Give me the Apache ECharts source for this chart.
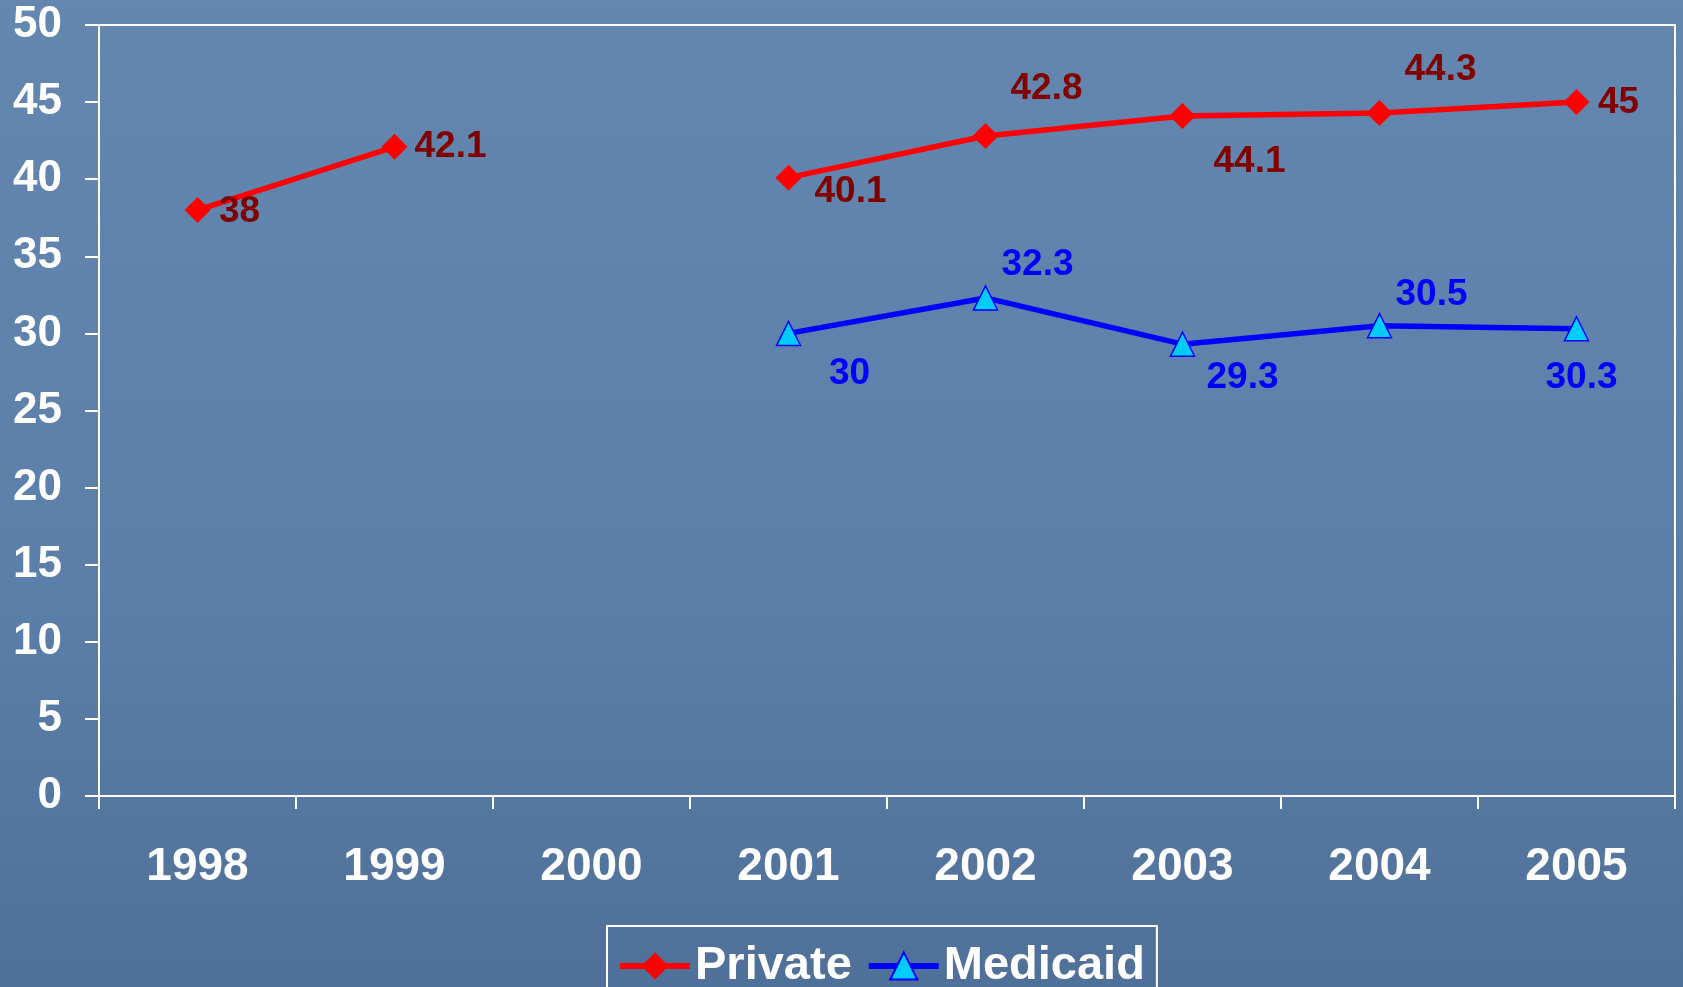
<!DOCTYPE html>
<html>
<head>
<meta charset="utf-8">
<script src="https://cdn.jsdelivr.net/npm/echarts@6/dist/echarts.min.js"></script>
<style>
html,body{margin:0;padding:0;}
#c{width:1683px;height:987px;}
</style>
</head>
<body>
<div id="c"></div>
<script>
const categories = ['1998','1999','2000','2001','2002','2003','2004','2005'];
const privateValues = [38, 42.1, null, 40.1, 42.8, 44.1, 44.3, 45];
const medicaidValues = [null, null, null, 30, 32.3, 29.3, 30.5, 30.3];
const yTicks = [0, 5, 10, 15, 20, 25, 30, 35, 40, 45, 50];

const FONT = '"Liberation Sans", Arial, sans-serif';
// label placement (style, not data)
const privateLabelOffsets = [[42,2],[56,0],[0,0],[62,14],[61,-47],[67,46],[61,-43],[42,1]];
const medicaidLabelOffsets = [[0,0],[0,0],[0,0],[61,40],[52,-33],[60,34],[52,-31],[5,49]];

function items(values, offsets) {
  return values.map((v, i) => v === null ? null : { value: v, label: { offset: offsets[i] } });
}

const chart = echarts.init(document.getElementById('c'));
chart.setOption({
  animation: false,
  backgroundColor: {
    type: 'linear', x: 0, y: 0, x2: 0, y2: 1,
    colorStops: [
      { offset: 0, color: '#6487b0' },
      { offset: 0.6, color: '#5b7fa9' },
      { offset: 1, color: '#4f7098' }
    ]
  },
  grid: {
    left: 99, top: 25, right: 8, bottom: 191,
    show: true, borderColor: '#ffffff', borderWidth: 2, backgroundColor: 'transparent'
  },
  legend: {
    left: 607, top: 926,
    padding: [12, 12, 12, 10],
    borderColor: '#ffffff', borderWidth: 2,
    itemWidth: 70, itemHeight: 34, itemGap: 14,
    lineStyle: { width: 6 },
    textStyle: { color: '#ffffff', fontSize: 47, fontWeight: 'bold', fontFamily: FONT, lineHeight: 56 },
    data: ['Private', 'Medicaid']
  },
  xAxis: {
    type: 'category',
    data: categories,
    boundaryGap: true,
    axisLine: { lineStyle: { color: '#ffffff', width: 2 } },
    axisTick: { show: true, length: 13, lineStyle: { color: '#ffffff', width: 2 } },
    axisLabel: { color: '#ffffff', fontSize: 46, fontWeight: 'bold', fontFamily: FONT, margin: 48 },
    splitLine: { show: false }
  },
  yAxis: {
    type: 'value',
    min: yTicks[0], max: yTicks[yTicks.length - 1], interval: yTicks[1] - yTicks[0],
    axisLine: { show: true, lineStyle: { color: '#ffffff', width: 2 } },
    axisTick: { show: true, length: 14, lineStyle: { color: '#ffffff', width: 2 } },
    axisLabel: { color: '#ffffff', fontSize: 44, fontWeight: 'bold', fontFamily: FONT, margin: 37 },
    splitLine: { show: false }
  },
  series: [
    {
      name: 'Private', type: 'line',
      data: items(privateValues, privateLabelOffsets),
      connectNulls: false,
      symbol: 'diamond', symbolSize: 26,
      lineStyle: { color: '#ff0000', width: 5.5 },
      itemStyle: { color: '#ff0000' },
      label: {
        show: true, position: 'inside', align: 'center', verticalAlign: 'middle',
        color: '#800000', fontSize: 37, fontWeight: 'bold', fontFamily: FONT
      },
      z: 3
    },
    {
      name: 'Medicaid', type: 'line',
      data: items(medicaidValues, medicaidLabelOffsets),
      connectNulls: false,
      symbol: 'triangle', symbolSize: 24,
      lineStyle: { color: '#0000ff', width: 5.5 },
      itemStyle: { color: '#00ccff', borderColor: '#0000ff', borderWidth: 1.5 },
      label: {
        show: true, position: 'inside', align: 'center', verticalAlign: 'middle',
        color: '#0000ff', fontSize: 37, fontWeight: 'bold', fontFamily: FONT
      },
      z: 3
    }
  ]
});
</script>
</body>
</html>
